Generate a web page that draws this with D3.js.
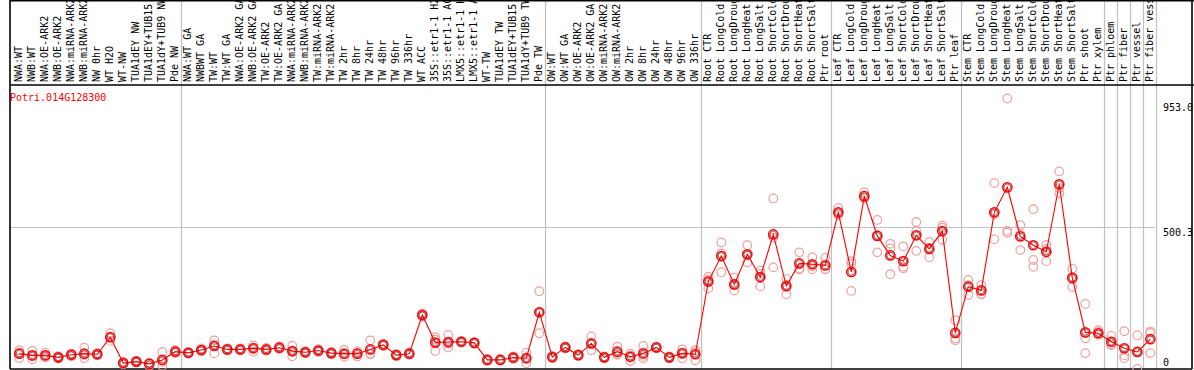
<!DOCTYPE html>
<html><head><meta charset="utf-8">
<script src="https://cdn.jsdelivr.net/npm/d3@7"></script>
<style>body{margin:0;background:#fff}svg{display:block}text{font-family:"DejaVu Sans Mono",monospace;font-size:10px}</style>
</head><body>
<script>
const geneName = "Potri.014G128300";
const categories = ["NWA:WT","NWB:WT","NWA:OE-ARK2","NWB:OE-ARK2","NWA:miRNA-ARK2","NWB:miRNA-ARK2","NW 0hr","WT H2O","WT-NW","TUA1dEY NW","TUA1dEY+TUB15 NW","TUA1dY+TUB9 NW","Pde NW",
"NWA:WT GA","NWBWT GA","TW:WT","TW:WT GA","NWA:OE-ARK2 GA","NWB:OE-ARK2 GA","TW:OE-ARK2","TW:OE-ARK2 GA","NWA:miRNA-ARK2","NWB:miRNA-ARK2","TW:miRNA-ARK2","TW:miRNA-ARK2","TW 2hr","TW 8hr","TW 24hr","TW 48hr","TW 96hr","TW 336hr","WT ACC","35S::etr1-1 H2O","35S::etr1-1 ACC","LMX5::etr1-1 H2O","LMX5::etr1-1 ACC","WT-TW","TUA1dEY TW","TUA1dEY+TUB15 TW","TUA1dY+TUB9 TW","Pde TW",
"OW:WT","OW:WT GA","OW:OE-ARK2","OW:OE-ARK2 GA","OW:miRNA-ARK2","OW:miRNA-ARK2","OW 2hr","OW 8hr","OW 24hr","OW 48hr","OW 96hr","OW 336hr",
"Root CTR","Root LongCold","Root LongDrought","Root LongHeat","Root LongSalt","Root ShortCold","Root ShortDrought","Root ShortHeat","Root ShortSalt","Ptr root",
"Leaf CTR","Leaf LongCold","Leaf LongDrought","Leaf LongHeat","Leaf LongSalt","Leaf ShortCold","Leaf ShortDrought","Leaf ShortHeat","Leaf ShortSalt","Ptr leaf",
"Stem CTR","Stem LongCold","Stem LongDrought","Stem LongHeat","Stem LongSalt","Stem ShortCold","Stem ShortDrought","Stem ShortHeat","Stem ShortSalt","Ptr shoot","Ptr xylem",
"Ptr phloem","Ptr fiber","Ptr vessel","Ptr fiber vessel"];
// index of last category in each group (a grey separator follows it)
const groupEnds = [12,40,52,62,72,83,84,85,86,87];
const means = [54,48,48,41,50,54,52,112,21,26,18,32,61,57,67,81,69,69,73,69,75,63,
59,65,56,54,54,69,85,49,54,190,93,95,96,92,32,32,40,38,200,42,76,49,
90,41,61,43,55,76,41,55,52,308,398,298,404,324,474,292,372,369,365,552,342,609,
469,400,380,471,423,486,127,290,277,552,640,467,436,413,651,321,129,126,96,73,60,105];
const rep1 = [66,64,57,45,55,75,56,126,25,29,22,60,66,60,72,101,73,73,83,74,80,82,
63,70,60,67,63,101,88,52,58,196,112,120,99,95,35,35,44,57,274,46,80,52,
115,44,79,47,81,79,44,69,66,315,446,322,436,346,601,317,411,394,392,568,380,623,
525,441,432,518,448,505,172,314,263,655,953,507,563,437,696,353,229,137,117,133,119,127];
const rep2 = [38,34,40,37,45,38,48,99,17,23,11,11,56,54,62,55,65,65,61,64,70,45,
55,60,52,43,44,54,82,46,50,185,63,76,93,89,29,30,36,20,126,38,72,46,
66,38,50,28,38,73,38,38,31,284,341,277,376,291,358,263,351,351,351,543,275,601,
411,334,355,416,394,455,101,261,263,457,487,419,384,380,619,289,56,120,87,38,0,56];
const rep3 = [58,46,47,41,50,49,52,111,21,26,21,25,61,57,67,87,69,69,75,69,75,62,
59,65,56,52,55,52,85,49,54,189,103,89,96,92,32,31,40,37,200,42,76,49,
89,41,54,54,46,76,41,58,59,325,407,295,400,335,463,296,354,362,352,545,371,603,
471,425,360,486,427,498,108,295,295,544,480,475,360,422,638,321,108,131,84,48,61,132];
const yMaxValue = 953.0;
const yTickLabels = ["953.0","500.3","0"];

const W = 1194, H = 370;
const L = 10, R = 1192, TOP = 0, HEAD = 85, BOT = 369, PLOT_R = 1155;
const svg = d3.select("body").append("svg").attr("width", W).attr("height", H);

const x = d3.scalePoint().domain(d3.range(categories.length)).range([19.3, 1150.3]);
const step = x.step();
const y = d3.scaleLinear().domain([0, yMaxValue * 1.05]).range([BOT, HEAD]);

// vertical group separators
svg.append("g").selectAll("line").data(groupEnds).join("line")
  .attr("x1", d => Math.round(x(d) + step * 0.4) + 0.5)
  .attr("x2", d => Math.round(x(d) + step * 0.4) + 0.5)
  .attr("y1", TOP).attr("y2", BOT)
  .attr("stroke", "#c0c0c0").attr("stroke-width", 1.2);
// horizontal mid gridline
const midVal = yMaxValue * 1.05 / 2;
svg.append("line").attr("x1", L).attr("x2", PLOT_R)
  .attr("y1", Math.round(y(midVal)) + 0.5).attr("y2", Math.round(y(midVal)) + 0.5)
  .attr("stroke", "#c0c0c0").attr("stroke-width", 1.2);

// category labels (long ones run past the top edge, as in the original)
svg.append("g").selectAll("text").data(categories).join("text")
  .attr("transform", (d, i) => `translate(${x(i) + 3},${HEAD - 3}) rotate(-90)`)
  .attr("fill", "#000").text(d => d);

// frame
const frame = svg.append("g").attr("stroke", "#000").attr("stroke-width", 1.6);
frame.append("line").attr("x1", L).attr("x2", W).attr("y1", 0.8).attr("y2", 0.8);
frame.append("line").attr("x1", L).attr("x2", W).attr("y1", HEAD).attr("y2", HEAD);
frame.append("line").attr("x1", L).attr("x2", R).attr("y1", BOT).attr("y2", BOT);
frame.append("line").attr("x1", L).attr("x2", L).attr("y1", 0).attr("y2", BOT);
frame.append("line").attr("x1", R).attr("x2", R).attr("y1", 0).attr("y2", BOT);

// title
svg.append("text").attr("x", L).attr("y", 101).attr("fill", "#ff0000").text(geneName);

// y labels
const tickVals = [yMaxValue, midVal, 0];
const tickDy = [12.5, 9, -3];
svg.append("g").selectAll("text").data(tickVals).join("text")
  .attr("x", 1163).attr("y", (d, i) => y(d) + tickDy[i])
  .attr("fill", "#000").text((d, i) => yTickLabels[i]);

// replicates
const reps = [];
[rep1, rep2, rep3].forEach(arr => arr.forEach((v, i) => { if (v != null) reps.push({i, v}); }));
svg.append("g").selectAll("circle").data(reps).join("circle")
  .attr("cx", d => x(d.i)).attr("cy", d => y(d.v)).attr("r", 4.3)
  .attr("fill", "none").attr("stroke", "#f0a0a0").attr("stroke-width", 1.2);

// mean line
svg.append("path").datum(means)
  .attr("d", d3.line().x((d, i) => x(i)).y(d => y(d)))
  .attr("fill", "none").attr("stroke", "#ff0000").attr("stroke-width", 1.1);

// mean markers
const mg = svg.append("g");
mg.selectAll("circle.o").data(means).join("circle").attr("class", "o")
  .attr("cx", (d, i) => x(i)).attr("cy", d => y(d)).attr("r", 4.6)
  .attr("fill", "none").attr("stroke", "#ff0000").attr("stroke-width", 1.5);
mg.selectAll("circle.in").data(means).join("circle").attr("class", "in")
  .attr("cx", (d, i) => x(i)).attr("cy", d => y(d)).attr("r", 3.3)
  .attr("fill", "none").attr("stroke", "#600000").attr("stroke-width", 0.6);
</script>
</body></html>
